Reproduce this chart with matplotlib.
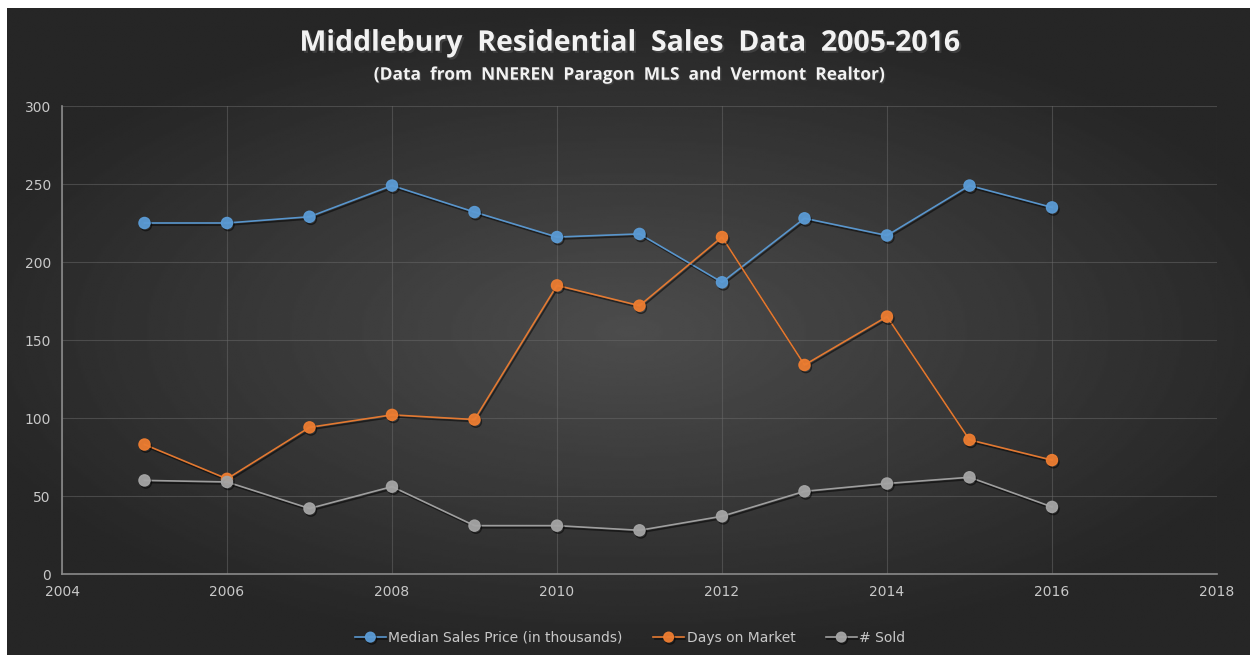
import numpy as np
import matplotlib.pyplot as plt
import matplotlib.patheffects as pe

# データ
years = [2005, 2006, 2007, 2008, 2009, 2010, 2011, 2012, 2013, 2014, 2015, 2016]
median_price = [225, 225, 229, 249, 232, 216, 218, 187, 228, 217, 249, 235]
days_on_market = [83, 61, 94, 102, 99, 185, 172, 216, 134, 165, 86, 73]
num_sold = [60, 59, 42, 56, 31, 31, 28, 37, 53, 58, 62, 43]

series_names = ['Median Sales Price (in thousands)', 'Days on Market', '# Sold']
series_colors = ['#5b9bd5', '#ed7d31', '#a5a5a5']

x_ticks = list(range(2004, 2019, 2))
y_ticks = list(range(0, 301, 50))

TXT = '#c8c8c8'


def main():
    fig = plt.figure(figsize=(12.5, 6.55), dpi=100, facecolor='white')

    # 背景 (放射状グラデーション)
    bg = fig.add_axes([7 / 1250, 0, 1 - 7 / 1250, 647 / 655])
    yy, xx = np.mgrid[-1:1:300j, -1:1:600j]
    r = np.sqrt((xx * 0.9) ** 2 + (yy * 1.0) ** 2)
    shade = np.clip(0.30 - 0.15 * r, 0.15, 0.30)
    bg.imshow(shade, cmap='gray', vmin=0, vmax=1, aspect='auto',
              extent=[0, 1, 0, 1], interpolation='bilinear')
    bg.set_axis_off()

    ax = fig.add_axes([62 / 1250, 1 - 574 / 655, (1217 - 62) / 1250, (574 - 106) / 655])
    ax.patch.set_alpha(0)

    for vals, name, col in zip([median_price, days_on_market, num_sold], series_names, series_colors):
        ax.plot(years, vals, color=col, lw=1.2, marker='o', markersize=8,
                markeredgecolor=col, label=name, zorder=3, alpha=0.95,
                path_effects=[pe.SimpleLineShadow(offset=(1, -1.5), alpha=0.5), pe.Normal()])

    ax.set_xlim(2004, 2018)
    ax.set_ylim(0, 300)
    ax.set_xticks(x_ticks)
    ax.set_yticks(y_ticks)
    ax.grid(True, color='#6a6a6a', lw=0.8, alpha=0.5)
    ax.set_axisbelow(True)
    for s in ['top', 'right']:
        ax.spines[s].set_visible(False)
    for s in ['left', 'bottom']:
        ax.spines[s].set_color('#8a8a8a')
        ax.spines[s].set_linewidth(1.2)
    ax.tick_params(length=0, colors=TXT, labelsize=10, pad=8)

    # タイトル
    fig.text(0.504, 0.934, 'Middlebury  Residential  Sales  Data  2005-2016', ha='center', va='center',
             fontsize=20.5, fontweight='bold', color='#f2f2f2', family='Open Sans',
             path_effects=[pe.SimplePatchShadow(offset=(1.5, -1.5), alpha=0.7), pe.Normal()])
    fig.text(0.503, 0.886, '(Data  from  NNEREN  Paragon  MLS  and  Vermont  Realtor)', ha='center', va='center',
             fontsize=12.5, fontweight='bold', color='#f2f2f2', family='Open Sans',
             path_effects=[pe.SimplePatchShadow(offset=(1, -1), alpha=0.7), pe.Normal()])

    leg = ax.legend(loc='upper center', bbox_to_anchor=(0.492, -0.095), ncol=3, frameon=False,
                    fontsize=10, labelcolor=TXT, handlelength=2.2, columnspacing=2.2,
                    handletextpad=0.2)
    for h in leg.legend_handles:
        h.set_markersize(7)

    plt.savefig('out.png', dpi=100, facecolor='white')


if __name__ == '__main__':
    main()
